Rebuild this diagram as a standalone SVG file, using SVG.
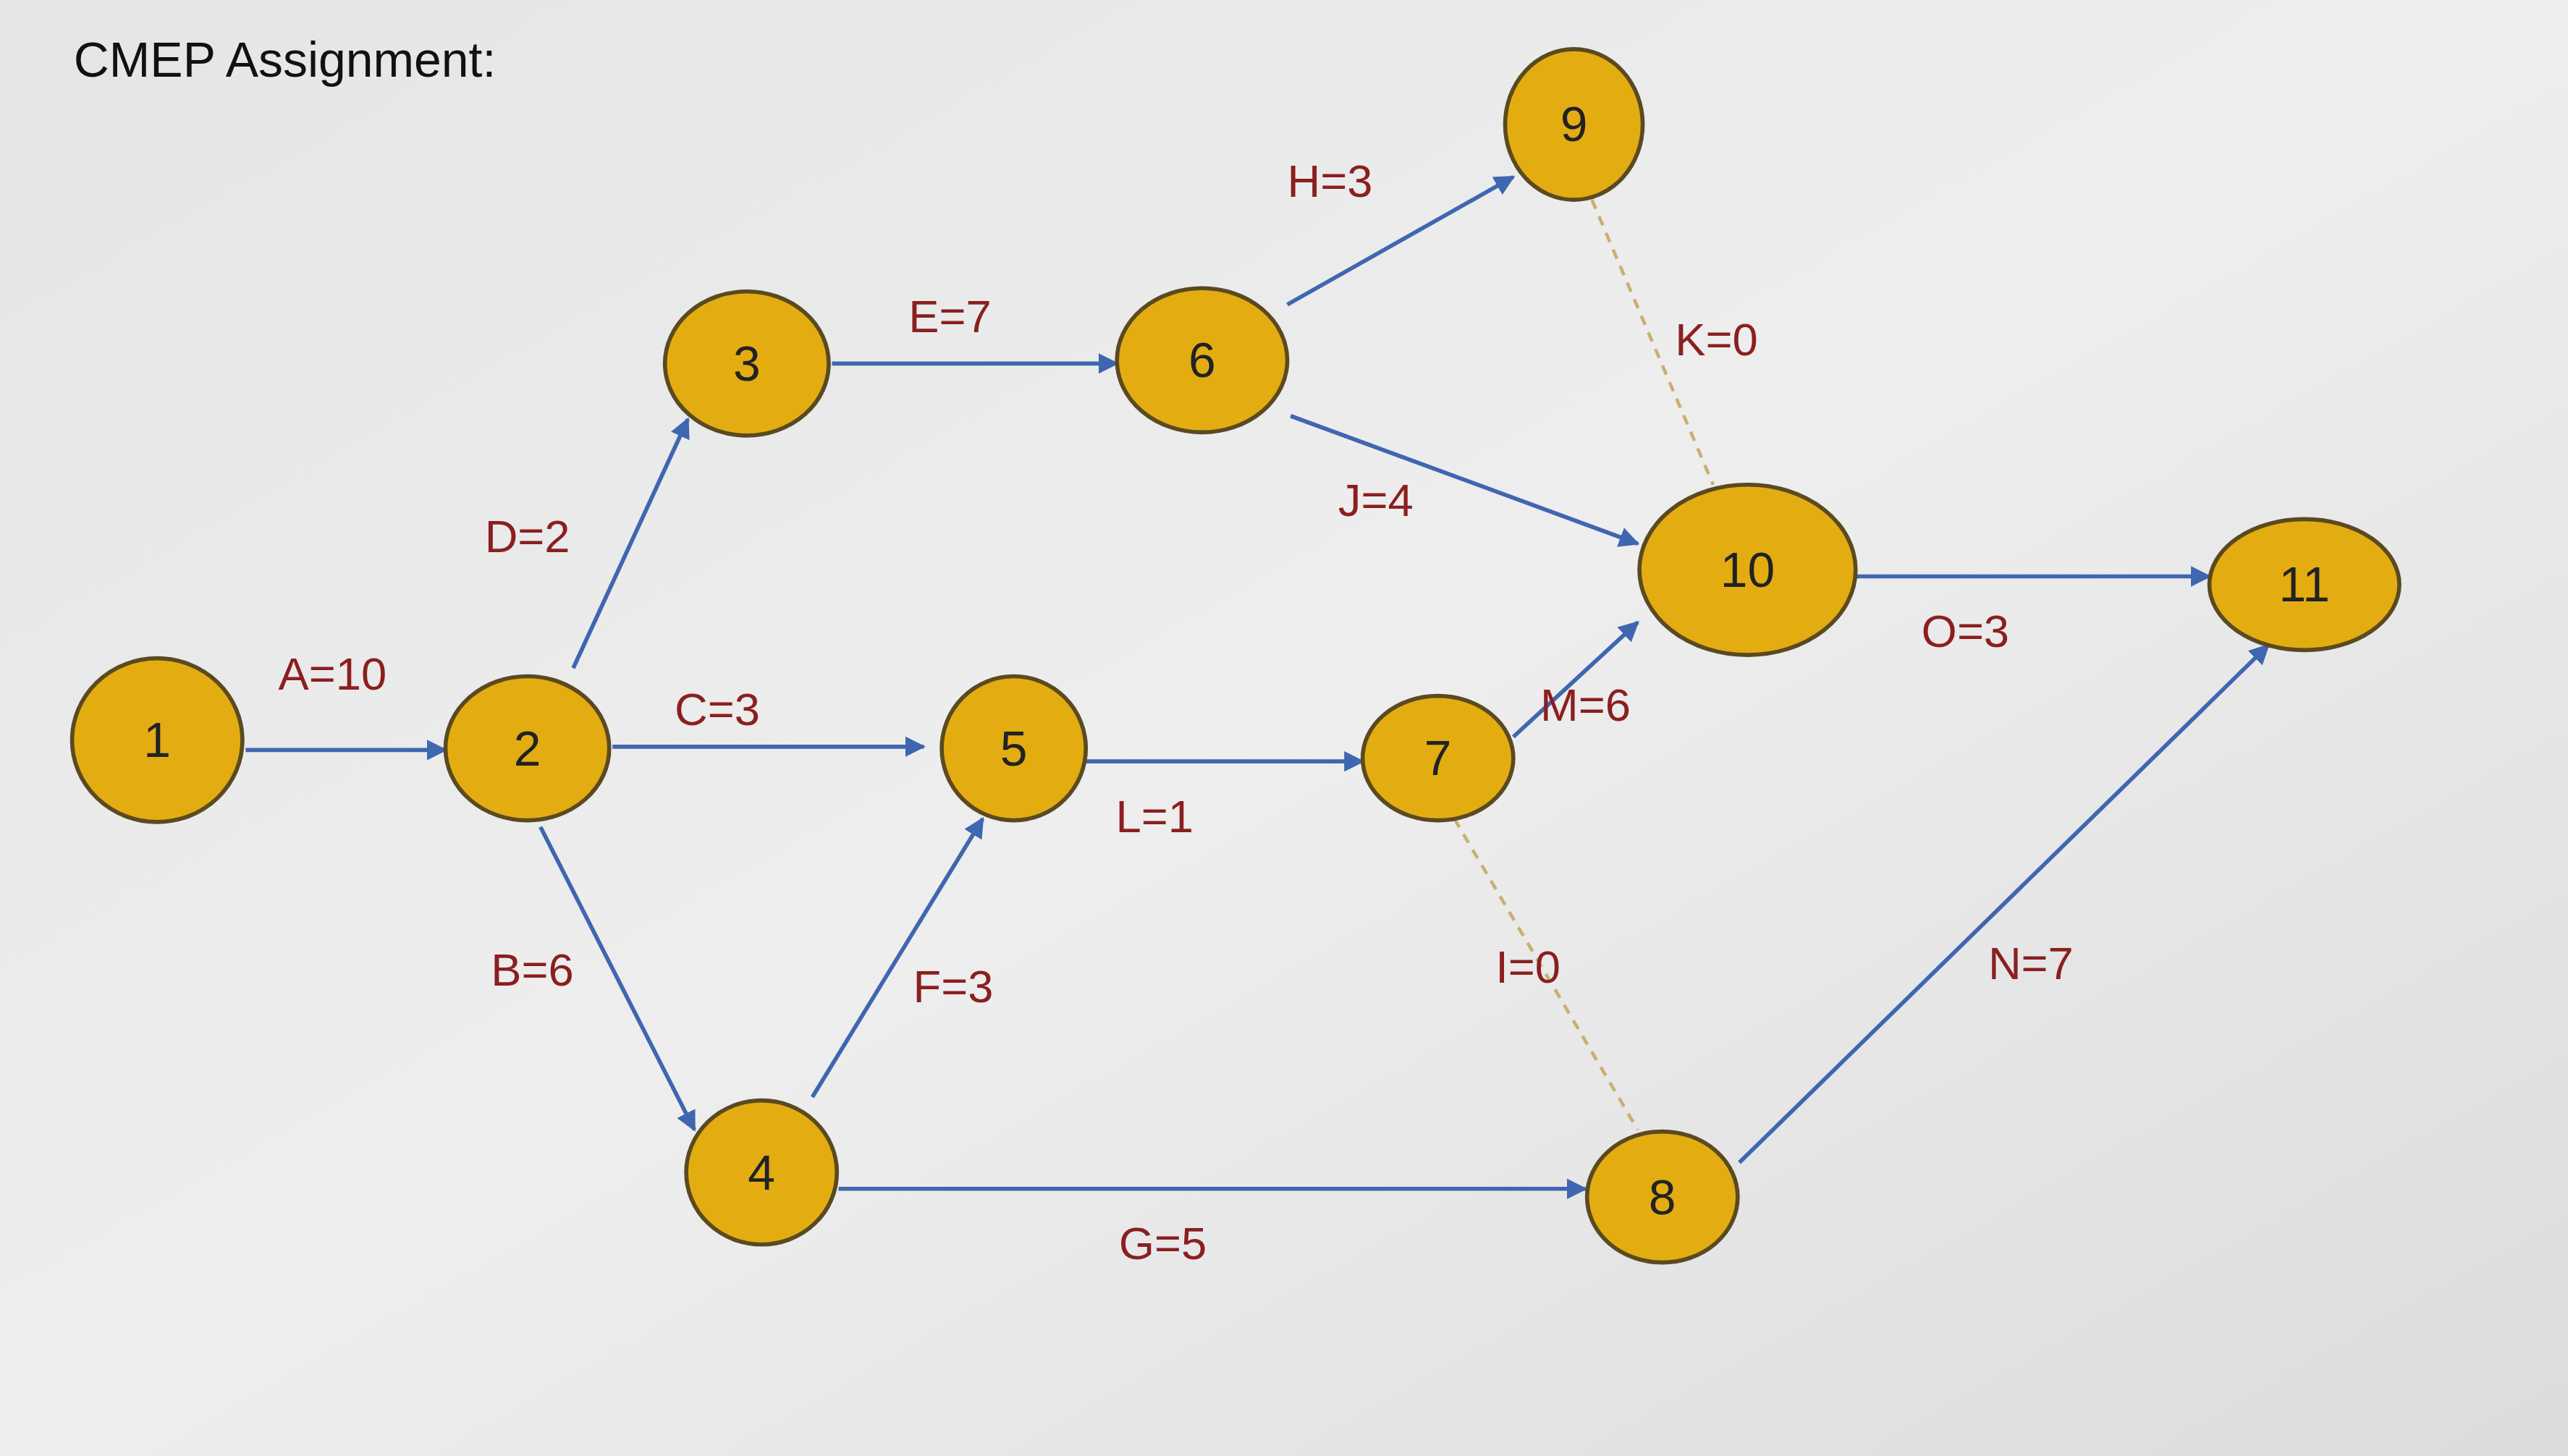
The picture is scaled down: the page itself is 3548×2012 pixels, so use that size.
<svg xmlns="http://www.w3.org/2000/svg" width="3548" height="2012" viewBox="0 0 3548 2012">
<defs>
<marker id="ah" viewBox="0 0 10 10" refX="9" refY="5" markerWidth="5" markerHeight="5" orient="auto"><path d="M0,0 L10,5 L0,10 z" fill="#3f66b0"/></marker>
<linearGradient id="bg" x1="0" y1="0" x2="1" y2="1"><stop offset="0" stop-color="#e4e5e6"/><stop offset="0.5" stop-color="#eeeeee"/><stop offset="1" stop-color="#dcdcde"/></linearGradient>
</defs>
<style>
.n ellipse{fill:#e3ad12;stroke:#5b4a20;stroke-width:2.5}
.n text{font-family:"Liberation Sans",Arial,sans-serif;font-size:30px;fill:#222;text-anchor:middle;dominant-baseline:central}
.e line{stroke:#3f66b0;stroke-width:2.5;marker-end:url(#ah)}
.e line.d{stroke:#c8b070;stroke-dasharray:6 5;marker-end:none;stroke-width:2}
.l{font-family:"Liberation Sans",Arial,sans-serif;font-size:28px;fill:#8b1f1f;text-anchor:middle}
</style>
<rect width="3548" height="2012" fill="url(#bg)"/>
<g transform="scale(2.2628)">
<text x="45" y="47" font-family="Liberation Sans,Arial,sans-serif" font-size="30" fill="#111">CMEP Assignment:</text>
<g id="edges" class="e">
<line x1="150" y1="458" x2="272" y2="458"/>
<line x1="374" y1="456" x2="564" y2="456"/>
<line x1="350" y1="408" x2="420" y2="256"/>
<line x1="330" y1="505" x2="424" y2="690"/>
<line x1="508" y1="222" x2="682" y2="222"/>
<line x1="496" y1="670" x2="600" y2="500"/>
<line x1="512" y1="726" x2="968" y2="726"/>
<line x1="662" y1="465" x2="832" y2="465"/>
<line x1="786" y1="186" x2="924" y2="108"/>
<line x1="788" y1="254" x2="1000" y2="332"/>
<line x1="924" y1="450" x2="1000" y2="380"/>
<line x1="1133" y1="352" x2="1349" y2="352"/>
<line x1="1062" y1="710" x2="1385" y2="394"/>
<line class="d" x1="972" y1="122" x2="1046" y2="296"/>
<line class="d" x1="888" y1="500" x2="1000" y2="690"/>
</g>
<g id="labels">
<text class="l" x="203" y="421">A=10</text>
<text class="l" x="438" y="443">C=3</text>
<text class="l" x="322" y="337">D=2</text>
<text class="l" x="325" y="602">B=6</text>
<text class="l" x="580" y="203">E=7</text>
<text class="l" x="582" y="612">F=3</text>
<text class="l" x="710" y="769">G=5</text>
<text class="l" x="705" y="508">L=1</text>
<text class="l" x="812" y="120">H=3</text>
<text class="l" x="840" y="315">J=4</text>
<text class="l" x="968" y="440">M=6</text>
<text class="l" x="1200" y="395">O=3</text>
<text class="l" x="1240" y="598">N=7</text>
<text class="l" x="1048" y="217">K=0</text>
<text class="l" x="933" y="600">I=0</text>
</g>
<g id="n1" class="n"><ellipse cx="96" cy="452" rx="52" ry="50"/><text x="96" y="452">1</text></g>
<g id="n2" class="n"><ellipse cx="322" cy="457" rx="50" ry="44"/><text x="322" y="457">2</text></g>
<g id="n3" class="n"><ellipse cx="456" cy="222" rx="50" ry="44"/><text x="456" y="222">3</text></g>
<g id="n4" class="n"><ellipse cx="465" cy="716" rx="46" ry="44"/><text x="465" y="716">4</text></g>
<g id="n5" class="n"><ellipse cx="619" cy="457" rx="44" ry="44"/><text x="619" y="457">5</text></g>
<g id="n6" class="n"><ellipse cx="734" cy="220" rx="52" ry="44"/><text x="734" y="220">6</text></g>
<g id="n7" class="n"><ellipse cx="878" cy="463" rx="46" ry="38"/><text x="878" y="463">7</text></g>
<g id="n8" class="n"><ellipse cx="1015" cy="731" rx="46" ry="40"/><text x="1015" y="731">8</text></g>
<g id="n9" class="n"><ellipse cx="961" cy="76" rx="42" ry="46"/><text x="961" y="76">9</text></g>
<g id="n10" class="n"><ellipse cx="1067" cy="348" rx="66" ry="52"/><text x="1067" y="348">10</text></g>
<g id="n11" class="n"><ellipse cx="1407" cy="357" rx="58" ry="40"/><text x="1407" y="357">11</text></g>
</g>
</svg>
